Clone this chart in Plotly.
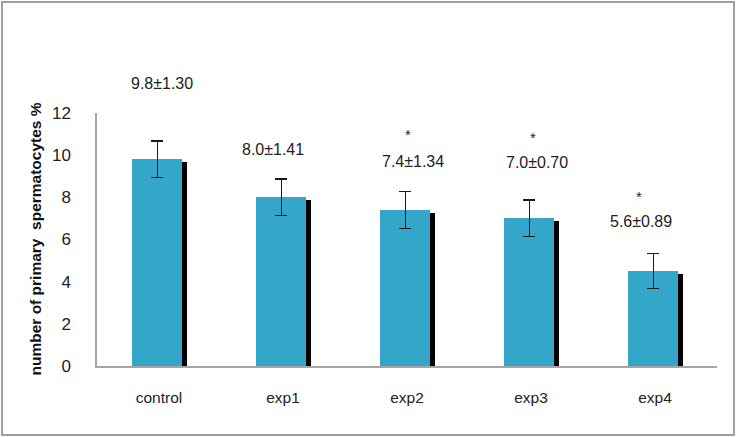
import plotly.graph_objects as go

# ---- data ----
categories = ["control", "exp1", "exp2", "exp3", "exp4"]
means = [9.8, 8.0, 7.4, 7.0, 4.5]
errors = [0.87, 0.87, 0.86, 0.87, 0.83]
value_labels = ["9.8±1.30", "8.0±1.41", "7.4±1.34", "7.0±0.70", "5.6±0.89"]
significant = [False, False, True, True, True]
y_ticks = [0, 2, 4, 6, 8, 10, 12]
y_title = "number of primary  spermatocytes %"

# ---- layout geometry (pixels) ----
W, H = 736, 437
ML, MR, MT, MB = 97, 19, 113, 71
PW, PH = W - ML - MR, H - MT - MB
px_per_unit = PH / 12.0

bar_w = 0.40
bar_off = -0.215
shadow_dx = 5 / (PW / len(categories))
shadow_drop = 3 / px_per_unit

fig = go.Figure()

# shadow bars
fig.add_trace(go.Bar(
    x=categories, y=[m - shadow_drop for m in means],
    width=bar_w, offset=bar_off + shadow_dx,
    marker=dict(color="#000000", line=dict(width=0)),
    hoverinfo="skip", showlegend=False,
))
# main bars
fig.add_trace(go.Bar(
    x=categories, y=means,
    width=bar_w, offset=bar_off,
    marker=dict(color="#33a6c9", line=dict(width=0)),
    error_y=dict(type="data", array=errors, visible=True,
                 color="#1a1a1a", thickness=1.2, width=6),
    showlegend=False,
))

# value labels / significance stars (pixel shifts relative to error-bar top)
label_shift = [58, 29, 30, 38, 32]
label_dx = [0, -13, 3, 3, -17]
star_shift = [0, 0, 57, 63, 57]
star_dx = [0, 0, -2, -1, -19]
label_font = dict(family="Liberation Sans, Arial, sans-serif", size=16, color="#222222")
star_font = dict(family="Liberation Sans, Arial, sans-serif", size=15, color="#222222")
annotations = []
for i, c in enumerate(categories):
    top = means[i] + errors[i]
    annotations.append(dict(
        x=c, y=top, xref="x", yref="y", text=value_labels[i],
        showarrow=False, yshift=label_shift[i], xshift=label_dx[i] + 3,
        font=label_font,
    ))
    if significant[i]:
        annotations.append(dict(
            x=c, y=top, xref="x", yref="y", text="*",
            showarrow=False, yshift=star_shift[i], xshift=star_dx[i] + 3,
            font=star_font,
        ))

# y-axis title as a rotated annotation
annotations.append(dict(
    x=(35 - ML) / PW, y=0.5, xref="paper", yref="paper", xanchor="center", yanchor="middle",
    text=y_title, textangle=-90, showarrow=False,
    font=dict(family="Liberation Sans, Arial, sans-serif", size=15.5, color="#111111", weight="bold"),
))

# outer border of the figure
shapes = [dict(
    type="rect", xref="paper", yref="paper",
    x0=(2 - ML) / PW, x1=(W - 2 - ML) / PW,
    y0=-(H - 2 - MT - PH) / PH, y1=(PH + MT - 2) / PH,
    line=dict(color="#a0a0a0", width=2), fillcolor="rgba(0,0,0,0)", layer="below",
)]

fig.update_layout(
    width=W, height=H,
    margin=dict(l=ML, r=MR, t=MT, b=MB, pad=0),
    paper_bgcolor="white", plot_bgcolor="white",
    barmode="overlay", bargap=0,
    annotations=annotations, shapes=shapes,
    xaxis=dict(
        showgrid=False, zeroline=False, showline=True, linecolor="#a6a6a6", linewidth=1.5,
        ticks="", ticklabelstandoff=17,
        tickfont=dict(family="Liberation Sans, Arial, sans-serif", size=15.5, color="#222222"),
        range=[-0.5, 4.5],
    ),
    yaxis=dict(
        range=[0, 12], tickvals=y_ticks, showgrid=False, zeroline=False,
        showline=True, linecolor="#a6a6a6", linewidth=1.5, ticks="",
        ticklabelstandoff=21,
        tickfont=dict(family="Liberation Sans, Arial, sans-serif", size=17, color="#222222"),
    ),
    font=dict(family="Liberation Sans, Arial, sans-serif"),
)

fig.write_html(
    "out.html",
    config={"displayModeBar": False},
    post_script="document.body.style.margin='0';document.body.style.padding='0';"
                "document.body.style.overflow='hidden';",
)
